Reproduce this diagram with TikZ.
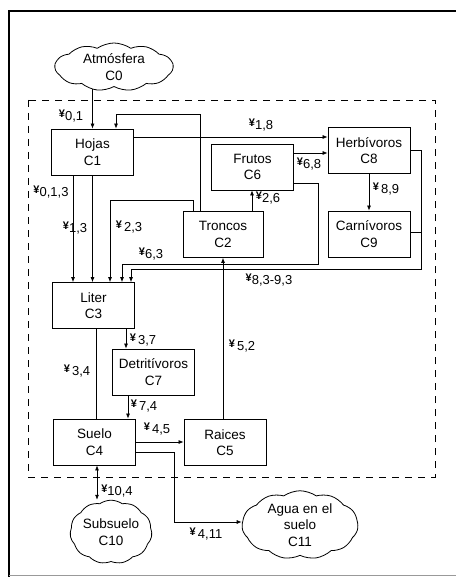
\documentclass[tikz,border=0pt]{standalone}
\usepackage{fontspec}
\setmainfont{Liberation Sans}
\usetikzlibrary{arrows.meta,shapes.symbols}
\pgfdeclarelayer{bg}
\pgfsetlayers{bg,main}
\newcommand\flux[1]{{\fontsize{11}{11}\selectfont\bfseries ¥}\raisebox{-3.5pt}{#1}}
\begin{document}
\begin{tikzpicture}[x=1pt,y=-1pt,
  box/.style={draw,line width=0.8pt,minimum width=82pt,minimum height=46pt,inner sep=0pt,align=center,font=\fontsize{13.5}{16.5}\selectfont},
  cld/.style={cloud,draw,fill=white,line width=0.8pt,cloud puffs=11,cloud puff arc=70,inner sep=0pt,align=center,font=\fontsize{13.5}{16.5}\selectfont},
  lab/.style={inner sep=0pt,font=\fontsize{13}{13}\selectfont},
  link/.style={line width=0.7pt},
  arr/.style={link,-{Latex[length=5pt,width=4pt]}},
  darr/.style={link,{Latex[length=5pt,width=4pt]}-{Latex[length=5pt,width=4pt]}},
]
\path[use as bounding box] (0,0) rectangle (455,577);
% frame
\draw[line width=2.6pt] (456,11) -- (9,11) -- (9,577);
\draw[line width=0.6pt,black!40] (9,575.5) -- (456,575.5);
% dashed system boundary
\draw[line width=0.8pt,dash pattern=on 7pt off 6pt] (28,100) rectangle (435,477);

% compartments
\node[cld,minimum width=118pt,minimum height=48pt,aspect=2.4] (C0) at (114,67) {Atmósfera\\C0};
\node[box] (C1) at (92.5,152) {Hojas\\C1};
\node[box] (C6) at (252.5,167) {Frutos\\C6};
\node[box] (C8) at (369,150.5) {Herbívoros\\C8};
\node[box,minimum width=80pt] (C2) at (223,234.5) {Troncos\\C2};
\node[box] (C9) at (369,234) {Carnívoros\\C9};
\node[box] (C3) at (93.5,305.5) {Liter\\C3};
\node[box] (C7) at (153.5,372) {Detritívoros\\C7};
\node[box] (C4) at (94.5,442) {Suelo\\C4};
\node[box] (C5) at (225,442.5) {Raices\\C5};
\node[cld,minimum width=82pt,minimum height=61pt,aspect=1.35] (C10) at (111,532) {Subsuelo\\C10};
\node[cld,minimum width=116pt,minimum height=62pt,aspect=1.9] (C11) at (300,525) {Agua en el\\suelo\\C11};

% connectors
\begin{pgfonlayer}{bg}
\draw[arr] (C0.center -| C1.north) -- (C1.north);
\end{pgfonlayer}
\draw[arr] ([xshift=-23pt]C2.north) -- ++(0,-97) -| ([xshift=23.5pt]C1.north);
\draw[arr] ([yshift=15pt]C1.east) -- ([yshift=15pt]C1.east -| C8.west);
\draw[arr] ([yshift=14pt]C6.east) -- ([yshift=14pt]C6.east -| C8.west);
\draw[arr] ([xshift=29pt]C2.north) -- ([xshift=29pt]C2.north |- C6.south);
\draw[arr] (C8.south) -- (C9.north);
\draw[arr] ([xshift=-19.5pt]C1.south) -- ([xshift=-19.5pt]C1.south |- C3.north);
\draw[arr] (C1.south) -- (C1.south |- C3.north);
\draw[arr] ([xshift=-30pt]C2.north) -- ++(0,-11) -| ([xshift=16.5pt]C3.north);
\draw[arr] ([yshift=-16pt]C6.east) -- ++(24,0) -- ++(0,81) -| ([xshift=28.5pt]C3.north);
\draw[arr] (C8.east) -- ++(11,0) -- ++(0,118.5) -| ([xshift=37.5pt]C3.north);
\draw[link] ([yshift=2pt]C9.east) -- ++(11,0);
\draw[arr] ([xshift=32.5pt]C3.south) -- ([xshift=32.5pt]C3.south |- C7.north);
\draw[link] ([xshift=2.5pt]C3.south) -- ([xshift=2.5pt]C3.south |- C4.north);
\draw[arr] ([xshift=-25.5pt]C7.south) -- ([xshift=-25.5pt]C7.south |- C4.north);
\draw[arr] (C4.east) -- (C4.east -| C5.west);
\draw[arr] ([xshift=-2pt]C5.north) -- ([xshift=-2pt]C5.north |- C2.south);
\draw[arr] ([yshift=-10pt]C4.east) -- ++(38,0) |- ([yshift=3pt]C11.west);
\draw[darr] ([xshift=2.5pt]C4.south) -- ([xshift=2.5pt]C4.south |- C10.north);

% flux labels
\node[lab] (f01) at (71,116) {\flux{0,1}};
\node[lab] (f013) at (51,192) {\flux{0,1,3}};
\node[lab] (f18) at (261,125) {\flux{1,8}};
\node[lab] (f68) at (309,164) {\flux{6,8}};
\node[lab] (f26) at (268,198) {\flux{2,6}};
\node[lab] (f89) at (386,189) {\flux{\,8,9}};
\node[lab] (f8393) at (269,280) {\flux{8,3-9,3}};
\node[lab] (f13) at (75,228) {\flux{1,3}};
\node[lab] (f23) at (129,227) {\flux{\,2,3}};
\node[lab] (f63) at (151,254) {\flux{6,3}};
\node[lab] (f37) at (143,340) {\flux{\,3,7}};
\node[lab] (f34) at (77,371) {\flux{\,3,4}};
\node[lab] (f74) at (144,406) {\flux{\,7,4}};
\node[lab] (f45) at (157,429) {\flux{\,4,5}};
\node[lab] (f52) at (242,346) {\flux{\,5,2}};
\node[lab] (f104) at (117,491) {\flux{10,4}};
\node[lab] (f411) at (206,534) {\flux{\,4,11}};
\end{tikzpicture}
\end{document}
